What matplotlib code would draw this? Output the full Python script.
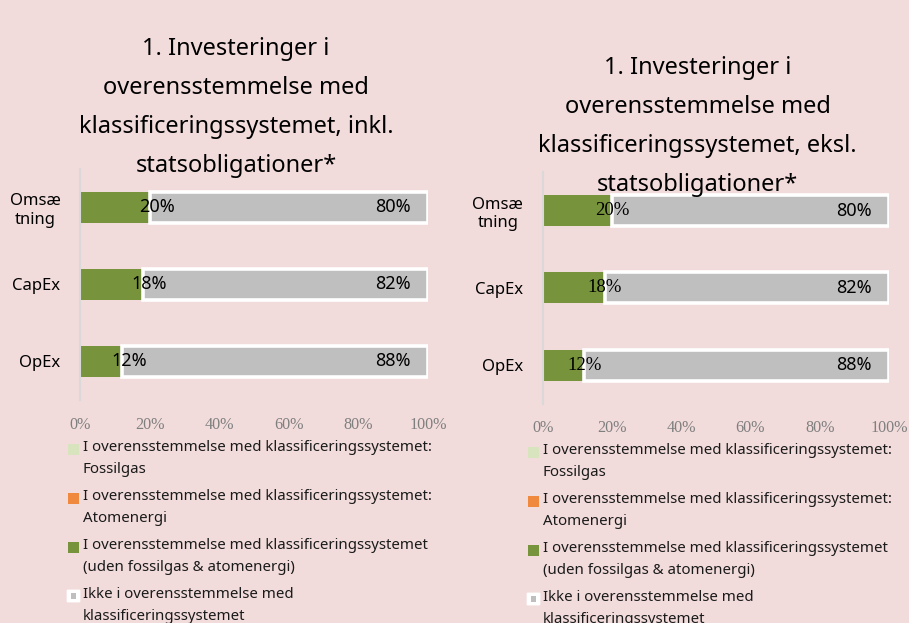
import numpy as np
import matplotlib
matplotlib.use("Agg")
from matplotlib import pyplot as plt
from matplotlib.patches import Rectangle, FancyBboxPatch

# data
categories = ["Omsæ\ntning", "CapEx", "OpEx"]
aligned_incl = [20, 18, 12]
not_aligned_incl = [80, 82, 88]
aligned_excl = [20, 18, 12]
not_aligned_excl = [80, 82, 88]
titles = [
    "1. Investeringer i\noverensstemmelse med\nklassificeringssystemet, inkl.\nstatsobligationer*",
    "1. Investeringer i\noverensstemmelse med\nklassificeringssystemet, eksl.\nstatsobligationer*",
]
legend_labels = [
    "I overensstemmelse med klassificeringssystemet:\nFossilgas",
    "I overensstemmelse med klassificeringssystemet:\nAtomenergi",
    "I overensstemmelse med klassificeringssystemet\n(uden fossilgas & atomenergi)",
    "Ikke i overensstemmelse med\nklassificeringssystemet",
]
xticks = [0, 20, 40, 60, 80, 100]

BG = "#f2dcdb"
GREEN = "#77933c"
GREY = "#bfbfbf"
LIGHT_GREEN = "#d7e4bd"
ORANGE = "#f0883e"
SANS = "Noto Sans"
SERIF = "Liberation Serif"

fig = plt.figure(figsize=[9.09, 6.23], dpi=100)
fig.patch.set_facecolor(BG)


def draw_panel(rect, aligned, not_aligned, title, title_y, serif_labels):
    ax = fig.add_axes(rect)
    ax.set_facecolor(BG)
    y = np.arange(len(categories))
    ax.barh(y, aligned, height=0.4, color=GREEN, zorder=2)
    ax.barh(y, not_aligned, left=aligned, height=0.4, color=GREY,
            edgecolor="white", linewidth=2.6, zorder=3)
    for yi, a, n in zip(y, aligned, not_aligned):
        if serif_labels:
            ax.text(a, yi, f"{a}%", ha="center", va="center", fontsize=13.5,
                    family=SERIF, color="black", zorder=4)
        else:
            ax.text(a + 2, yi, f"{a}%", ha="center", va="center", fontsize=13,
                    family=SANS, color="black", zorder=4)
        ax.text(a + n - 5, yi, f"{n}%", ha="right", va="center", fontsize=13,
                family=SANS, color="black", zorder=4)
    ax.set_xlim(0, 100)
    ax.set_ylim(len(categories) - 0.5, -0.5)
    ax.set_yticks(y)
    ax.set_yticklabels(categories, family=SANS, fontsize=12, ha="right",
                       multialignment="center")
    ax.set_xticks(xticks)
    ax.set_xticklabels([f"{t}%" for t in xticks], family=SERIF, fontsize=11.6,
                       color="#7f7f7f")
    ax.tick_params(axis="both", length=0)
    ax.tick_params(axis="y", pad=14)
    ax.tick_params(axis="x", pad=12)
    for s in ["top", "right", "bottom"]:
        ax.spines[s].set_visible(False)
    ax.spines["left"].set_color("#d9d9d9")
    ax.spines["left"].set_linewidth(1.5)
    cx = rect[0] + rect[2] / 2 - 0.02
    fig.text(cx, title_y, title, ha="center", va="top", family=SANS,
             fontsize=17, linespacing=1.84, color="black")
    return ax


draw_panel([0.088, 0.358, 0.383, 0.371], aligned_incl, not_aligned_incl,
           titles[0], 1 - 37 / 623, False)
draw_panel([0.597, 0.352, 0.381, 0.372], aligned_excl, not_aligned_excl,
           titles[1], 1 - 56 / 623, True)

# legends drawn by hand (marker aligned with first text line)
colors = [LIGHT_GREEN, ORANGE, GREEN, None]


def draw_legend(x0, y0):
    step = 49 / 623
    for i, (lab, c) in enumerate(zip(legend_labels, colors)):
        yy = y0 - i * step
        mw, mh = 11 / 909, 11 / 623
        if c is not None:
            fig.patches.append(Rectangle((x0, yy - mh / 2), mw, mh,
                                         transform=fig.transFigure,
                                         facecolor=c, edgecolor="none"))
        else:
            fig.patches.append(FancyBboxPatch((x0, yy - mh / 2), mw, mh,
                                              boxstyle="round,pad=0.0015",
                                              transform=fig.transFigure,
                                              facecolor="white", edgecolor="none"))
            fig.patches.append(Rectangle((x0 + mw * 0.25, yy - mh * 0.25), mw * 0.5, mh * 0.5,
                                         transform=fig.transFigure,
                                         facecolor=GREY, edgecolor="none"))
        fig.text(x0 + 15 / 909, yy + 9 / 623, lab, ha="left", va="top",
                 family=SANS, fontsize=10.8, linespacing=1.62, color="#1a1a1a")


draw_legend(68 / 909, 1 - 449 / 623)
draw_legend(528 / 909, 1 - 452 / 623)

fig.savefig("out.png", dpi=100, facecolor=BG)
